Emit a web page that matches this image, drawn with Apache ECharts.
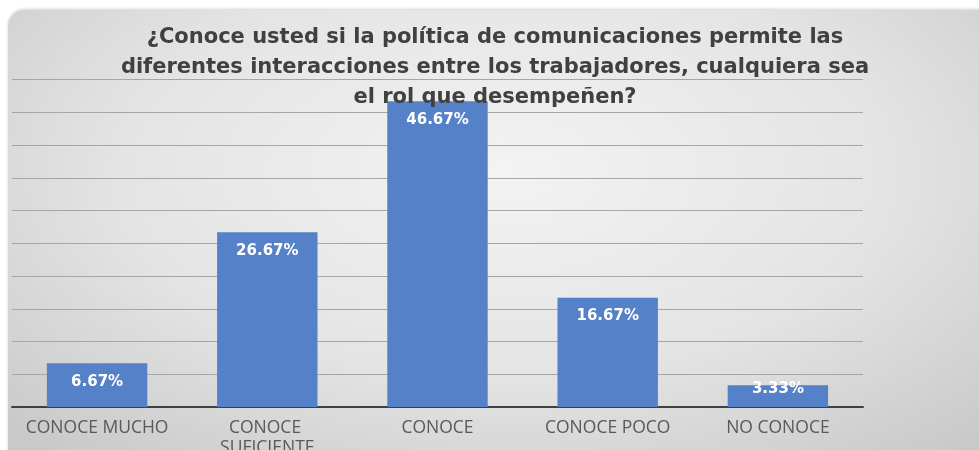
<!DOCTYPE html>
<html>
<head>
<meta charset="utf-8">
<script src="https://cdn.jsdelivr.net/npm/echarts@6/dist/echarts.min.js"></script>
<style>
  html, body { margin: 0; padding: 0; background: #ffffff; overflow: hidden; }
  #wrap { position: relative; width: 979px; height: 450px; }
  #panel {
    position: absolute; left: 8px; top: 10px; width: 990px; height: 460px;
    border-radius: 16px;
    background: radial-gradient(ellipse 70% 80% at 50% 35%, #f3f3f3 0%, #e4e4e4 55%, #c9c9c9 100%);
    box-shadow: 0 -1px 3px rgba(0,0,0,0.18);
  }
  #main { position: absolute; left: 0; top: 0; width: 979px; height: 450px; }
</style>
</head>
<body>
<div id="wrap">
  <div id="panel"></div>
  <div id="main"></div>
</div>
<script>
// datos del grafico
const categorias = ['CONOCE MUCHO', 'CONOCE SUFICIENTE', 'CONOCE', 'CONOCE POCO', 'NO CONOCE']
const porcentajes = [6.67, 26.67, 46.67, 16.67, 3.33]
const titulo = '¿Conoce usted si la política de comunicaciones permite las\ndiferentes interacciones entre los trabajadores, cualquiera sea\nel rol que desempeñen?'

var myChart = echarts.init(document.getElementById('main'))

var option = {
    backgroundColor: 'transparent',
    animation: false,
    title: {
        text: titulo,
        left: 495,
        top: 23,
        padding: 0,
        textAlign: 'center',
        textStyle: {
            fontFamily: 'DejaVu Sans',
            fontSize: 21,
            fontWeight: 'bold',
            color: '#404040',
            lineHeight: 30
        }
    },
    grid: {
        left: 12,
        right: 116,
        top: 79.5,
        bottom: 43,
        containLabel: false,
        outerBoundsMode: 'none'
    },
    xAxis: {
        type: 'category',
        data: categorias,
        axisTick: { show: false },
        axisLine: { lineStyle: { color: '#404040', width: 2 } },
        axisLabel: {
            interval: 0,
            margin: 11,
            width: 160,
            overflow: 'break',
            lineHeight: 20,
            fontFamily: 'Open Sans',
            fontSize: 17.5,
            color: '#595959'
        }
    },
    yAxis: {
        type: 'value',
        min: 0,
        max: 50,
        interval: 5,
        axisLabel: { show: false },
        axisLine: { show: false },
        axisTick: { show: false },
        splitLine: { lineStyle: { color: '#a6a6a6', width: 1 } }
    },
    series: [
        {
            type: 'bar',
            barWidth: '59%',
            itemStyle: { color: '#5581c9' },
            data: porcentajes.map((v, i) => {
                // la barra mas baja lleva la etiqueta casi en el borde
                if (v < 5) {
                    return { value: v, label: { distance: -4 } }
                }
                return v
            }),
            label: {
                show: true,
                position: 'insideTop',
                distance: 11,
                formatter: p => p.value.toFixed(2) + '%',
                fontFamily: 'DejaVu Sans',
                fontSize: 15,
                fontWeight: 'bold',
                color: '#ffffff'
            }
        }
    ]
}

myChart.setOption(option)
</script>
</body>
</html>
